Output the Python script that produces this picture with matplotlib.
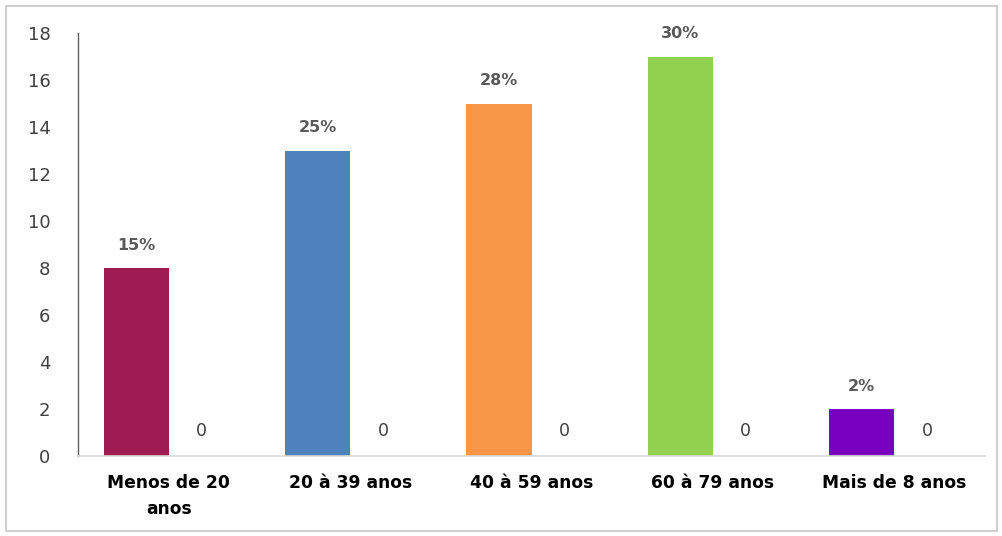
import matplotlib.pyplot as plt
from matplotlib.patches import Rectangle
import numpy as np

plt.rcParams['font.family'] = ['DejaVu Sans']

# Dados
categorias = ["Menos de 20\nanos", "20 à 39 anos", "40 à 59 anos", "60 à 79 anos", "Mais de 8 anos"]
valores = [8, 13, 15, 17, 2]
percentuais = ["15%", "25%", "28%", "30%", "2%"]
zeros = [0, 0, 0, 0, 0]
cores = ["#9E1C52", "#4F81BD", "#F79646", "#92D050", "#7A00BF"]

fig = plt.figure(figsize=(10.03, 5.36), dpi=100)
ax = fig.add_axes([0.078, 0.149, 0.904, 0.789])

x = np.arange(len(categorias))
largura = 0.36

ax.bar(x - 0.18, valores, width=largura, color=cores, zorder=2)
ax.bar(x + 0.18, zeros, width=largura, color="none")

# Rótulos das barras
for xi, v, p in zip(x, valores, percentuais):
    ax.text(xi - 0.18, v + 0.65, p, ha='center', va='bottom', fontsize=11.5,
            fontweight='bold', color='#595959')
for xi, z in zip(x, zeros):
    ax.text(xi + 0.18, z + 0.7, str(z), ha='center', va='bottom', fontsize=12.5,
            color='#404040')

ax.set_xlim(-0.5, len(categorias) - 0.5)
ax.set_ylim(0, 18)
ax.set_yticks(range(0, 19, 2))
ax.set_xticks(x)
ax.set_xticklabels(categorias, fontsize=12.3, fontweight='bold', color='black',
                   linespacing=1.55)
ax.tick_params(axis='y', length=0, pad=20, labelsize=13, labelcolor='#404040')
ax.tick_params(axis='x', length=0, pad=13)

for s in ['top', 'right']:
    ax.spines[s].set_visible(False)
ax.spines['left'].set_color('#606060')
ax.spines['left'].set_linewidth(1.0)
ax.spines['bottom'].set_color('#D9D9D9')
ax.spines['bottom'].set_linewidth(1.2)

# Moldura da figura
fig.patches.append(Rectangle((0.006, 0.01), 0.988, 0.978, transform=fig.transFigure,
                             fill=False, edgecolor='#D0D0D0', linewidth=1.5))

fig.savefig("out.png", dpi=100)
